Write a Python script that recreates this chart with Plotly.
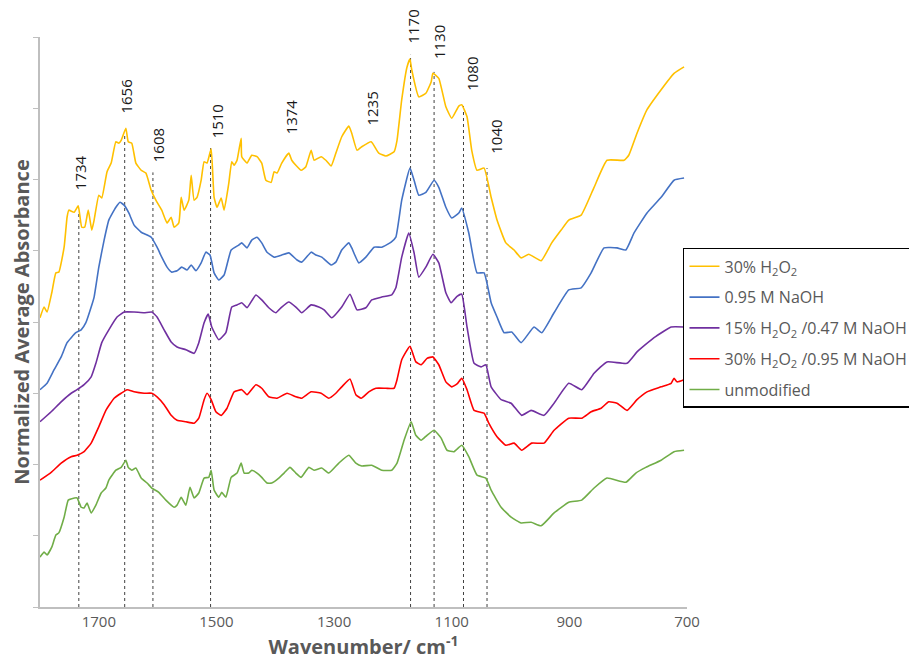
import plotly.graph_objects as go

# wavenumber (cm-1) / normalized absorbance (offset stacked)
wn_h2o2 = [1800, 1793, 1788, 1780, 1773, 1768, 1759, 1754, 1751, 1742, 1735, 1729, 1724, 1718, 1712, 1708,
           1700, 1695, 1686, 1679, 1671, 1666, 1662, 1654, 1650, 1644, 1637, 1628, 1620, 1611, 1603, 1593,
           1584, 1577, 1572, 1564, 1560, 1555, 1547, 1543, 1538, 1533, 1526, 1521, 1516, 1509, 1504, 1499,
           1492, 1487, 1479, 1474, 1470, 1465, 1458, 1457, 1448, 1440, 1431, 1423, 1416, 1407, 1402, 1397,
           1389, 1377, 1372, 1365, 1356, 1348, 1339, 1334, 1322, 1314, 1305, 1297, 1287, 1275, 1270, 1261,
           1253, 1237, 1224, 1212, 1198, 1193, 1185, 1176, 1171, 1168, 1156, 1144, 1135, 1132, 1122, 1110,
           1100, 1088, 1083, 1074, 1066, 1057, 1045, 1033, 1023, 1008, 994, 982, 969, 948, 930, 914,
           901, 880, 858, 836, 807, 799, 785, 768, 744, 722, 705]
abs_h2o2 = [4.06, 4.21, 4.14, 4.41, 4.69, 4.70, 5.05, 5.47, 5.57, 5.54, 5.63, 5.33, 5.33, 5.57, 5.29, 5.43,
            5.78, 5.74, 6.11, 6.23, 6.53, 6.51, 6.55, 6.72, 6.53, 6.51, 6.23, 6.13, 6.09, 5.85, 5.71, 5.57,
            5.39, 5.47, 5.33, 5.39, 5.75, 5.57, 5.71, 6.06, 5.71, 5.75, 5.99, 6.25, 6.23, 6.43, 5.75, 5.61,
            5.74, 5.57, 5.95, 6.25, 6.20, 6.27, 6.58, 6.32, 6.23, 6.34, 6.32, 6.23, 5.99, 5.96, 6.11, 6.09,
            6.23, 6.37, 6.27, 6.20, 6.13, 6.18, 6.41, 6.27, 6.32, 6.27, 6.19, 6.37, 6.60, 6.75, 6.65, 6.41,
            6.46, 6.53, 6.37, 6.33, 6.39, 6.55, 7.12, 7.58, 7.69, 7.54, 7.16, 7.21, 7.37, 7.49, 7.42, 7.02,
            6.86, 7.03, 7.05, 6.88, 6.41, 6.13, 6.16, 5.75, 5.43, 5.11, 5.01, 4.90, 4.95, 4.86, 5.11, 5.29,
            5.43, 5.50, 5.89, 6.27, 6.27, 6.34, 6.65, 6.98, 7.26, 7.49, 7.58]

wn_naoh = [1800, 1788, 1776, 1764, 1754, 1739, 1730, 1722, 1713, 1708, 1700, 1691, 1683, 1671, 1664, 1657,
           1649, 1640, 1628, 1611, 1601, 1593, 1584, 1576, 1567, 1559, 1550, 1543, 1535, 1526, 1518, 1511,
           1504, 1496, 1487, 1475, 1462, 1457, 1448, 1440, 1431, 1423, 1414, 1402, 1389, 1377, 1363, 1355,
           1339, 1331, 1321, 1305, 1297, 1287, 1275, 1270, 1258, 1246, 1232, 1219, 1203, 1195, 1185, 1171,
           1164, 1156, 1144, 1130, 1122, 1110, 1100, 1088, 1083, 1071, 1057, 1045, 1033, 1023, 1011, 998,
           982, 960, 947, 926, 901, 880, 863, 841, 819, 804, 790, 768, 744, 722, 705]
abs_naoh = [3.05, 3.14, 3.33, 3.51, 3.71, 3.85, 3.89, 3.99, 4.21, 4.35, 4.77, 5.15, 5.43, 5.61, 5.68, 5.64,
            5.53, 5.36, 5.26, 5.19, 5.05, 4.91, 4.77, 4.70, 4.72, 4.77, 4.73, 4.80, 4.72, 4.83, 4.98, 4.94,
            4.69, 4.59, 4.66, 5.01, 5.08, 5.11, 5.04, 5.15, 5.19, 5.11, 4.98, 4.91, 4.94, 4.97, 4.87, 4.84,
            4.98, 4.94, 4.91, 4.80, 4.84, 5.01, 5.11, 5.04, 4.83, 4.91, 5.05, 5.05, 5.12, 5.19, 5.71, 6.16,
            5.99, 5.78, 5.82, 5.99, 5.89, 5.61, 5.46, 5.53, 5.60, 5.25, 4.69, 4.69, 4.27, 4.07, 3.85, 3.86,
            3.71, 3.93, 3.85, 4.13, 4.45, 4.48, 4.69, 5.04, 5.04, 5.01, 5.25, 5.53, 5.75, 5.99, 6.02]

wn_mix15 = [1800, 1781, 1764, 1747, 1737, 1725, 1713, 1705, 1695, 1683, 1669, 1657, 1640, 1623, 1610, 1601,
            1589, 1577, 1567, 1552, 1538, 1530, 1521, 1514, 1508, 1496, 1484, 1474, 1465, 1457, 1448, 1433,
            1423, 1411, 1399, 1389, 1377, 1365, 1355, 1339, 1326, 1317, 1304, 1287, 1273, 1261, 1246, 1236,
            1219, 1202, 1195, 1185, 1173, 1164, 1156, 1144, 1132, 1122, 1110, 1101, 1091, 1083, 1074, 1062,
            1050, 1042, 1033, 1016, 999, 981, 965, 943, 926, 901, 879, 858, 836, 802, 785, 756, 727, 705]
abs_mix15 = [2.60, 2.74, 2.88, 3.00, 3.05, 3.12, 3.23, 3.42, 3.71, 3.89, 4.07, 4.14, 4.14, 4.13, 4.14, 4.07,
             3.89, 3.72, 3.65, 3.61, 3.56, 3.71, 3.99, 4.11, 3.93, 3.75, 3.85, 4.21, 4.24, 4.27, 4.20, 4.38,
             4.31, 4.20, 4.13, 4.21, 4.28, 4.21, 4.13, 4.24, 4.21, 4.17, 4.06, 4.21, 4.39, 4.17, 4.20, 4.31,
             4.35, 4.38, 4.48, 4.91, 5.25, 4.97, 4.63, 4.77, 4.95, 4.83, 4.41, 4.27, 4.36, 4.39, 3.93, 3.42,
             3.37, 3.40, 3.09, 2.91, 2.86, 2.69, 2.76, 2.69, 2.86, 3.14, 3.05, 3.28, 3.44, 3.42, 3.58, 3.78,
             3.93, 3.93]

wn_mix30 = [1800, 1781, 1764, 1747, 1737, 1725, 1713, 1700, 1688, 1674, 1662, 1652, 1640, 1623, 1610, 1601,
            1589, 1577, 1567, 1552, 1538, 1530, 1521, 1516, 1509, 1501, 1492, 1482, 1470, 1457, 1448, 1433,
            1423, 1411, 1397, 1380, 1365, 1355, 1339, 1322, 1309, 1297, 1287, 1273, 1263, 1254, 1241, 1229,
            1212, 1198, 1193, 1185, 1171, 1161, 1152, 1142, 1132, 1122, 1110, 1100, 1091, 1083, 1074, 1062,
            1045, 1037, 1023, 1008, 994, 981, 964, 943, 926, 901, 879, 863, 846, 833, 819, 802, 785, 768,
            744, 727, 722, 717, 705]
abs_mix30 = [1.78, 1.89, 2.02, 2.11, 2.13, 2.18, 2.30, 2.53, 2.76, 2.93, 3.00, 3.05, 3.02, 3.00, 3.00, 2.95,
             2.84, 2.69, 2.62, 2.60, 2.58, 2.65, 2.91, 3.00, 2.91, 2.74, 2.69, 2.79, 3.02, 3.05, 2.98, 3.12,
             3.07, 2.95, 2.93, 3.00, 2.95, 2.93, 3.02, 3.00, 2.93, 3.00, 3.09, 3.20, 2.98, 2.93, 3.02, 3.07,
             3.07, 3.07, 3.19, 3.47, 3.66, 3.44, 3.40, 3.49, 3.51, 3.40, 3.16, 3.09, 3.13, 3.21, 3.05, 2.76,
             2.72, 2.58, 2.39, 2.27, 2.30, 2.20, 2.30, 2.30, 2.48, 2.65, 2.65, 2.74, 2.79, 2.88, 2.86, 2.76,
             2.91, 3.02, 3.09, 3.14, 3.21, 3.16, 3.19]

wn_unmod = [1800, 1793, 1788, 1780, 1773, 1768, 1759, 1752, 1746, 1737, 1730, 1725, 1720, 1713, 1705, 1696,
            1688, 1683, 1671, 1662, 1654, 1650, 1644, 1637, 1628, 1618, 1610, 1598, 1586, 1572, 1567, 1560,
            1552, 1545, 1538, 1530, 1521, 1513, 1509, 1504, 1496, 1491, 1484, 1475, 1465, 1458, 1453, 1445,
            1440, 1431, 1423, 1414, 1406, 1394, 1385, 1375, 1365, 1356, 1343, 1334, 1321, 1309, 1292, 1275,
            1263, 1253, 1236, 1219, 1202, 1193, 1181, 1169, 1161, 1152, 1142, 1130, 1118, 1108, 1096, 1083,
            1071, 1057, 1042, 1033, 1016, 999, 982, 965, 948, 926, 901, 879, 858, 836, 804, 787, 770, 744,
            722, 705]
abs_unmod = [0.70, 0.77, 0.73, 0.84, 1.01, 1.04, 1.26, 1.50, 1.52, 1.53, 1.40, 1.39, 1.46, 1.32, 1.43, 1.60,
             1.67, 1.78, 1.92, 1.96, 2.06, 1.96, 1.92, 1.95, 1.81, 1.74, 1.67, 1.61, 1.50, 1.40, 1.43, 1.54,
             1.43, 1.68, 1.53, 1.60, 1.81, 1.82, 1.92, 1.64, 1.54, 1.61, 1.54, 1.82, 1.88, 2.02, 1.88, 1.88,
             1.92, 1.88, 1.82, 1.74, 1.74, 1.81, 1.88, 1.96, 1.88, 1.82, 1.96, 1.92, 1.95, 1.88, 2.02, 2.13,
             2.02, 1.98, 1.99, 1.92, 1.92, 2.02, 2.34, 2.60, 2.41, 2.34, 2.41, 2.48, 2.37, 2.20, 2.18, 2.27,
             2.11, 1.85, 1.81, 1.64, 1.40, 1.26, 1.18, 1.19, 1.14, 1.32, 1.47, 1.50, 1.67, 1.81, 1.75, 1.88,
             1.96, 2.06, 2.18, 2.20]

series_names = ["30% H<sub>2</sub>O<sub>2</sub>", "0.95 M NaOH",
                "15% H<sub>2</sub>O<sub>2</sub> /0.47 M NaOH",
                "30% H<sub>2</sub>O<sub>2</sub> /0.95 M NaOH&nbsp;&nbsp;", "unmodified"]
series_colors = ["#FFC000", "#4472C4", "#7030A0", "#FF0000", "#70AD47"]

# marked bands: dashed line height and label height
peak_wn = [1734, 1656, 1608, 1510, 1170, 1130, 1080, 1040]
peak_top = [5.53, 6.65, 6.10, 6.44, 7.75, 7.51, 7.05, 6.16]
label_wn = [1734, 1656, 1608, 1510, 1374, 1235, 1170, 1130, 1080, 1040]
label_y = [6.10, 7.16, 6.48, 6.81, 6.88, 7.00, 8.14, 7.93, 7.49, 6.60]
label_shift = [2, 1, 5, 6, 0, 0, 2, 5, 9, 9]
y_max = 8

xs = [wn_h2o2, wn_naoh, wn_mix15, wn_mix30, wn_unmod]
ys = [abs_h2o2, abs_naoh, abs_mix15, abs_mix30, abs_unmod]

fig = go.Figure()
for i in range(5):
    fig.add_trace(go.Scatter(x=xs[i], y=ys[i], mode="lines", name=series_names[i],
                             legendgroup=str(i),
                             line=dict(color=series_colors[i], width=1.6, shape="spline", smoothing=0.4)))

for w, t in zip(peak_wn, peak_top):
    fig.add_shape(type="line", x0=w, x1=w, y0=0, y1=t, xref="x", yref="y",
                  line=dict(color="#404040", width=1, dash="dot"), layer="below")

for w, y, s in zip(label_wn, label_y, label_shift):
    fig.add_annotation(x=w, y=y / y_max, xref="x", yref="paper", text=str(w), textangle=-90,
                       xanchor="center", yanchor="middle",
                       showarrow=False, xshift=s, font=dict(size=15, color="#1a1a1a"))

# page body adds an 8px offset, so the figure is 8px smaller than the window
fig.update_layout(
    width=909, height=655,
    margin=dict(l=32, r=230, t=29, b=56, autoexpand=False),
    plot_bgcolor="white", paper_bgcolor="white",
    font=dict(family="Open Sans", color="#595959"),
    showlegend=True,
    legend=dict(x=0.9938, y=0.63, xanchor="left", yanchor="top",
                bordercolor="#000000", borderwidth=1.5,
                font=dict(size=16, color="#595959"),
                traceorder="grouped", tracegroupgap=7, itemwidth=30),
    xaxis=dict(range=[1800, 700], tickvals=[1700, 1500, 1300, 1100, 900, 700],
               showgrid=False, zeroline=False, showline=True, linecolor="#BFBFBF", linewidth=1.5,
               ticks="", tickfont=dict(size=15, color="#595959"), automargin=False,
               title=dict(text="<b>Wavenumber/ cm<sup>-1</sup></b>", font=dict(size=20, color="#595959"),
                          standoff=6)),
    yaxis=dict(range=[0, y_max], dtick=1, showticklabels=False, showgrid=False, zeroline=False,
               showline=True, linecolor="#BFBFBF", linewidth=1.5, automargin=False,
               ticks="outside", ticklen=5, tickcolor="#BFBFBF",
               title=dict(text="<b>Normalized Average Absorbance</b>", font=dict(size=20, color="#595959"),
                          standoff=2)),
)

fig.write_html("out.html")
